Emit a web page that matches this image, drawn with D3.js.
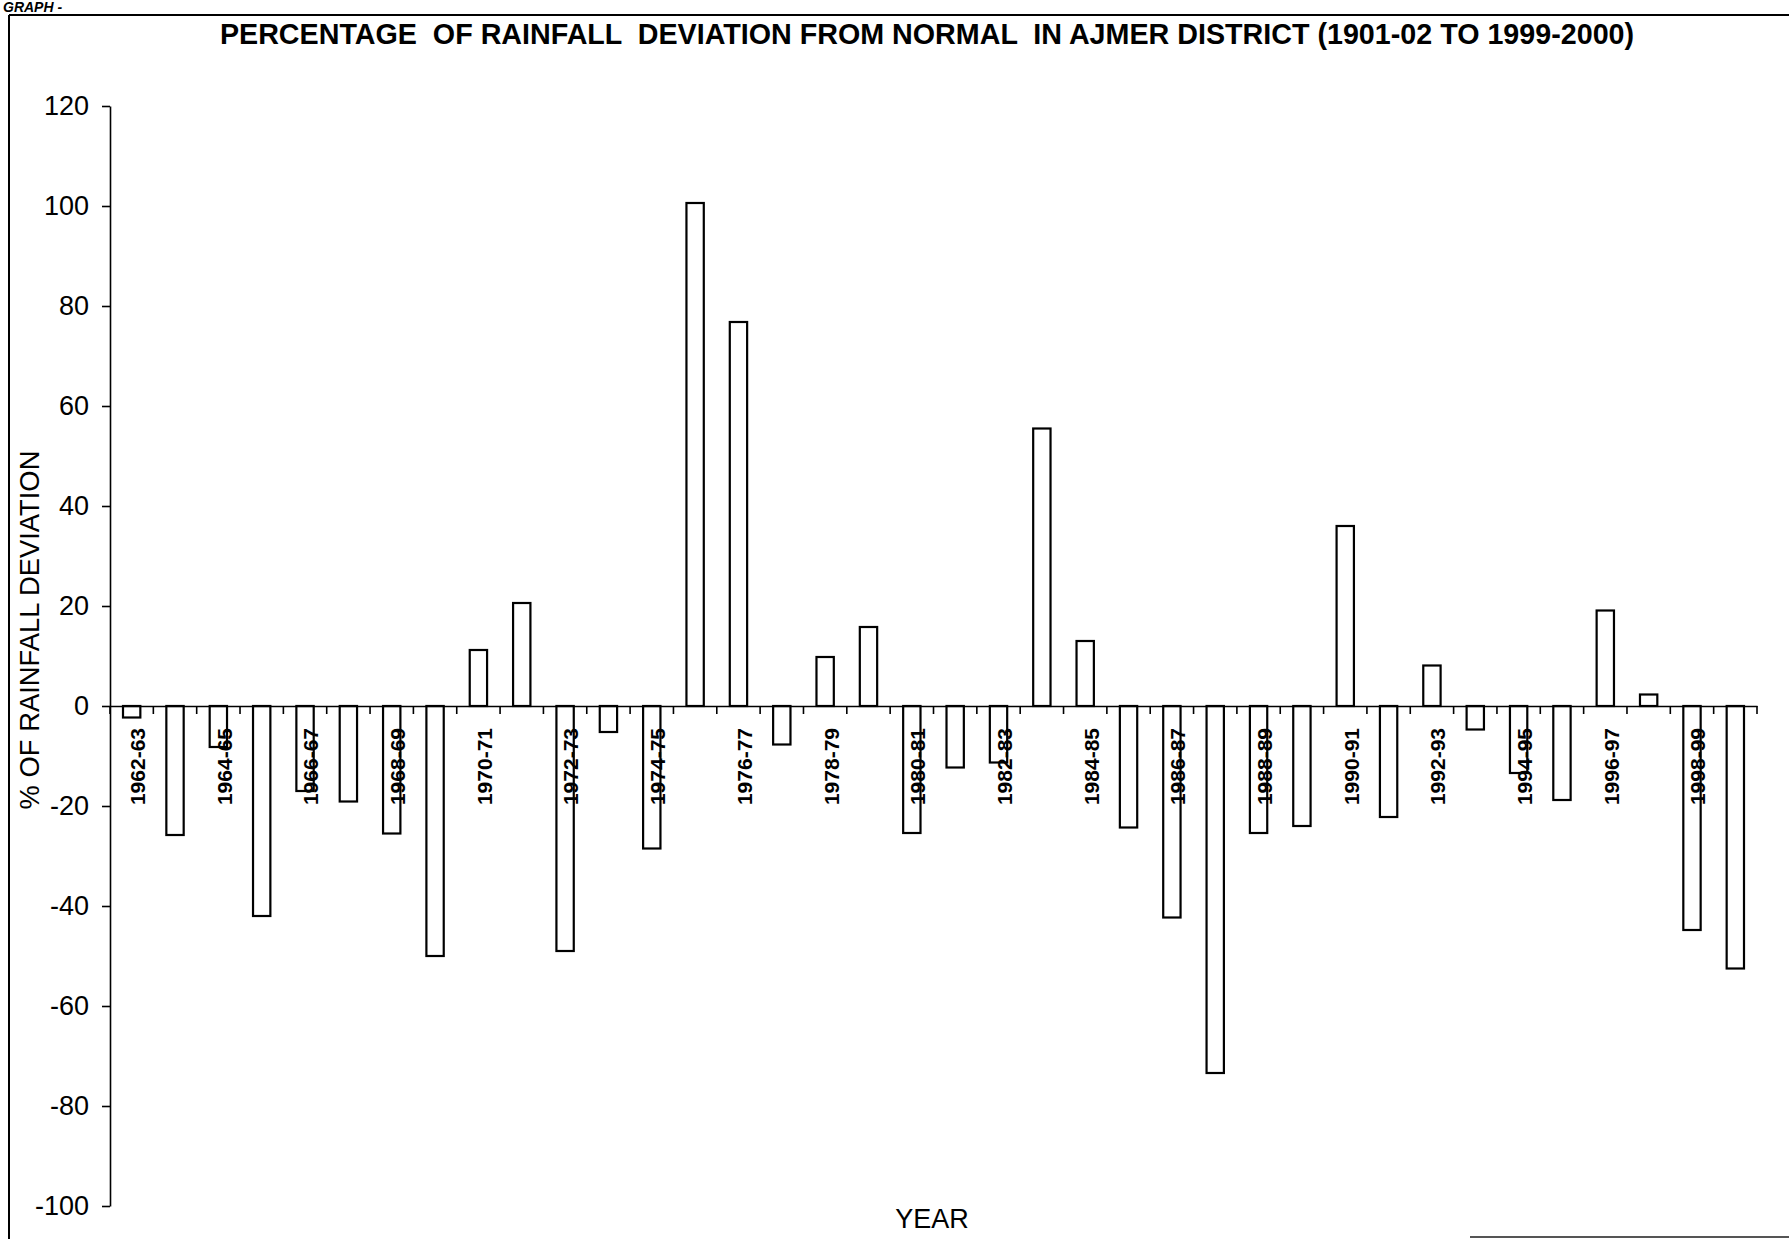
<!DOCTYPE html>
<html>
<head>
<meta charset="utf-8">
<script src="https://cdn.jsdelivr.net/npm/d3@7"></script>
<style>
  html, body { margin: 0; padding: 0; background: #fff; }
  svg { display: block; font-family: "Liberation Sans", Arial, sans-serif; }
</style>
</head>
<body>
<svg id="chart" width="1789" height="1239"></svg>
<script>
// Rainfall years shown on the category axis
const years = [
  "1962-63","1963-64","1964-65","1965-66","1966-67","1967-68","1968-69","1969-70",
  "1970-71","1971-72","1972-73","1973-74","1974-75","1975-76","1976-77","1977-78",
  "1978-79","1979-80","1980-81","1981-82","1982-83","1983-84","1984-85","1985-86",
  "1986-87","1987-88","1988-89","1989-90","1990-91","1991-92","1992-93","1993-94",
  "1994-95","1995-96","1996-97","1997-98","1998-99","1999-2000"
];

// Percentage deviation of rainfall from normal, one value per year
const deviation = [
  -2.3, -25.8, -8.2, -42.0, -17.0, -19.1, -25.5, -50.0,
  11.2, 20.6, -49.0, -5.2, -28.5, 100.6, 76.8, -7.7,
  9.8, 15.8, -25.4, -12.3, -11.3, 55.5, 13.0, -24.3,
  -42.3, -73.4, -25.4, -24.0, 36.0, -22.2, 8.1, -4.7,
  -13.4, -18.8, 19.1, 2.3, -44.8, -52.5
];

// Every second year carries a printed label
const yearLabels = [
  "1962-63","1964-65","1966-67","1968-69","1970-71","1972-73","1974-75","1976-77",
  "1978-79","1980-81","1982-83","1984-85","1986-87","1988-89","1990-91","1992-93",
  "1994-95","1996-97","1998-99"
];

const yTicks = [-100, -80, -60, -40, -20, 0, 20, 40, 60, 80, 100, 120];

const titleText = "PERCENTAGE  OF RAINFALL  DEVIATION FROM NORMAL  IN AJMER DISTRICT (1901-02 TO 1999-2000)";
const yTitle = "% OF RAINFALL DEVIATION";
const xTitle = "YEAR";

const svg = d3.select("#chart");

// Frame around the chart
svg.append("line").attr("x1", 9).attr("y1", 15).attr("x2", 1789).attr("y2", 15)
  .attr("stroke", "#000").attr("stroke-width", 2);
svg.append("line").attr("x1", 9).attr("y1", 15).attr("x2", 9).attr("y2", 1239)
  .attr("stroke", "#000").attr("stroke-width", 2);
svg.append("line").attr("x1", 1470).attr("y1", 1237).attr("x2", 1789).attr("y2", 1237)
  .attr("stroke", "#555").attr("stroke-width", 2);

// Page heading above the frame
svg.append("text")
  .attr("x", 3).attr("y", 12)
  .attr("font-size", 14).attr("font-style", "italic").attr("font-weight", "bold")
  .text("GRAPH -");

// Title, sized to its span
const title = svg.append("text")
  .attr("x", 927).attr("y", 44)
  .attr("text-anchor", "middle")
  .attr("font-weight", "bold")
  .attr("font-size", 24)
  .style("white-space", "pre")
  .text(titleText);
const tw = title.node().getComputedTextLength();
title.attr("font-size", 24 * 1415 / tw);

// Scales
const y = d3.scaleLinear().domain([-100, 120]).range([1206, 106]);
const x = d3.scaleBand().domain(years).range([110, 1757]).padding(0);
const barW = x.bandwidth() * 0.4;

// Y axis
const yAxis = svg.append("g")
  .attr("transform", "translate(110,0)")
  .call(d3.axisLeft(y).tickValues(yTicks).tickSize(8).tickSizeOuter(0).tickPadding(13)
    .tickFormat(d => String(d)));
yAxis.selectAll("path, line").attr("stroke", "#000").attr("stroke-width", 1.6);
yAxis.selectAll("text").attr("font-size", 27).attr("fill", "#000")
  .attr("font-family", "'Liberation Sans', Arial, sans-serif");

// Bars
const data = years.map((yr, i) => ({ yr, v: deviation[i] }));
svg.append("g").selectAll("rect").data(data).join("rect")
  .attr("x", d => x(d.yr) + (x.bandwidth() - barW) / 2)
  .attr("y", d => y(Math.max(0, d.v)))
  .attr("width", barW)
  .attr("height", d => Math.abs(y(d.v) - y(0)))
  .attr("fill", "#fff")
  .attr("stroke", "#000")
  .attr("stroke-width", 2.2);

// Category axis along the zero line
const xAxis = svg.append("g")
  .attr("transform", `translate(0,${y(0)})`)
  .call(d3.axisBottom(x).tickValues(yearLabels).tickSize(0).tickSizeOuter(0).tickPadding(0));
xAxis.select(".domain").attr("stroke", "#000").attr("stroke-width", 1.6);
xAxis.selectAll("text")
  .attr("font-size", 21).attr("font-weight", "bold").attr("fill", "#000")
  .attr("font-family", "'Liberation Sans', Arial, sans-serif")
  .attr("transform", "rotate(-90)")
  .attr("text-anchor", "end")
  .attr("x", -22)
  .attr("y", 6)
  .attr("dy", "0.35em");

// Tick marks on the category boundaries
const bounds = years.map(d => x(d)).concat([x.range()[1]]);
svg.append("g").selectAll("line").data(bounds).join("line")
  .attr("x1", d => d).attr("x2", d => d)
  .attr("y1", y(0)).attr("y2", y(0) + 8)
  .attr("stroke", "#000").attr("stroke-width", 1.6);

// Axis titles
const yt = svg.append("text")
  .attr("transform", "translate(39,630) rotate(-90)")
  .attr("text-anchor", "middle")
  .attr("font-size", 25)
  .text(yTitle);
yt.attr("font-size", 25 * 359 / yt.node().getComputedTextLength());

svg.append("text")
  .attr("x", 932).attr("y", 1228)
  .attr("text-anchor", "middle")
  .attr("font-size", 27)
  .text(xTitle);
</script>
</body>
</html>
